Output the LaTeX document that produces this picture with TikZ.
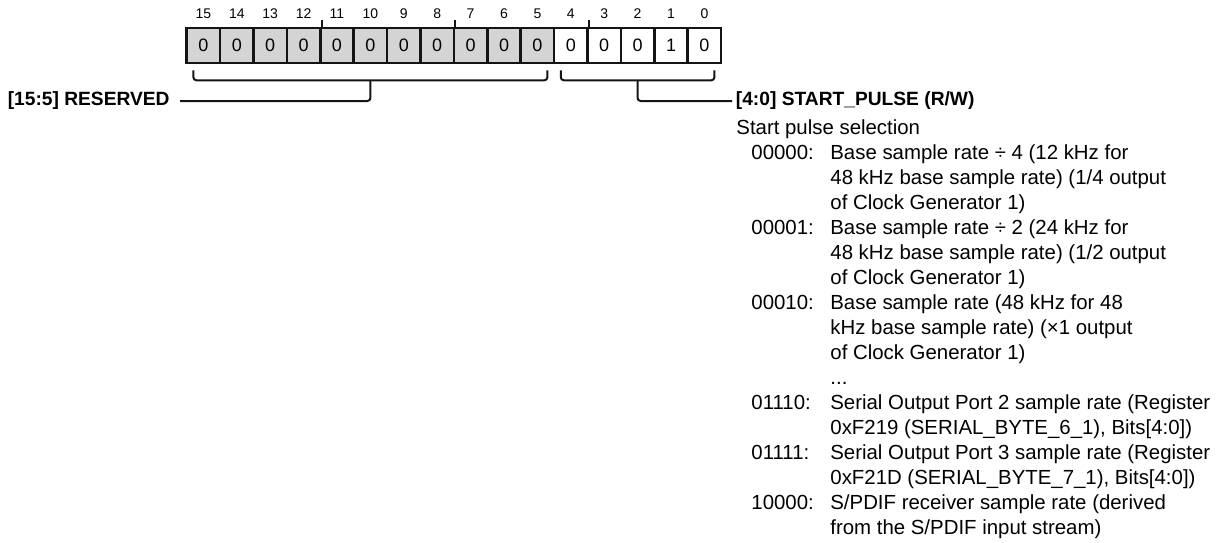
\documentclass[tikz,border=0pt]{standalone}
\usepackage{fontspec}
\setmainfont{Liberation Sans}
\usepackage{tikz}
\usetikzlibrary{positioning, calc}
\definecolor{rsvgrey}{RGB}{212,212,212}
\definecolor{regdark}{RGB}{20,20,20}
\tikzset{
  bitbox/.style={rectangle, draw=regdark, fill=white, line width=1.3pt,
    minimum width=16.7pt, minimum height=17.5pt, inner sep=0pt,
    font=\fontsize{9}{9}\selectfont},
  rsvbox/.style={bitbox, fill=rsvgrey},
  bitnum/.style={inner sep=0pt, font=\fontsize{7}{7}\selectfont},
  bittick/.style={line width=1pt, color=regdark},
  brace/.style={line width=1pt, color=regdark, rounded corners=1.5pt},
  fieldlbl/.style={inner ysep=0pt, font=\fontsize{9.6}{9.6}\selectfont\bfseries},
  desc/.style={inner sep=0pt, align=left, font=\fontsize{10.2}{12.5}\selectfont}
}

\begin{document}
\begin{tikzpicture}[x=0.5pt, y=-0.5pt]
  \useasboundingbox (0,0) rectangle (1231,542);

  % Register bits
  \foreach \b in {15,...,0} {
    \pgfmathtruncatemacro{\val}{\b==1 ? 1 : 0}
    \ifnum\b>4
      \node[rsvbox] (b\b) at ({203.4+(15-\b)*33.4},45.5) {\val};
    \else
      \node[bitbox] (b\b) at ({203.4+(15-\b)*33.4},45.5) {\val};
    \fi
    \node[bitnum] (n\b) at ($(b\b.north)+(0,-13)$) {\b};
  }
  \foreach \b in {12,8,4}
    \draw[bittick] (b\b.north east) -- ++(0,-7);

  % [15:5] RESERVED
  \coordinate (rsvL) at ([shift={(8,6)}]b15.south west);
  \coordinate (rsvR) at ([shift={(-8,6)}]b5.south east);
  \draw[brace] (rsvL) -- ++(0,10) -| (rsvR);
  \node[fieldlbl, anchor=east, inner xsep=5pt] (rsvlbl) at (180,101) {[15:5] RESERVED};
  \draw[brace] ($(rsvL)!0.5!(rsvR)+(0,10)$) |- (rsvlbl.east);

  % [4:0] START_PULSE
  \coordinate (pulseL) at ([shift={(8,6)}]b4.south west);
  \coordinate (pulseR) at ([shift={(-8,6)}]b0.south east);
  \draw[brace] (pulseL) -- ++(0,10) -| (pulseR);
  \node[fieldlbl, anchor=west, inner xsep=1.75pt] (pulselbl) at (732,101) {[4:0] START\_PULSE (R/W)};
  \draw[brace] ($(pulseL)!0.5!(pulseR)+(0,10)$) |- (pulselbl.west);

  \node[desc, anchor=north west] (pulsedesc) at (736,117) {%
    \begin{tabular}{@{}p{47pt}@{}l@{}}
      \multicolumn{2}{@{}l@{}}{Start pulse selection}\\
      \hspace*{7.5pt}00000: & Base sample rate ÷ 4 (12 kHz for\\
      & 48 kHz base sample rate) (1/4 output\\
      & of Clock Generator 1)\\
      \hspace*{7.5pt}00001: & Base sample rate ÷ 2 (24 kHz for\\
      & 48 kHz base sample rate) (1/2 output\\
      & of Clock Generator 1)\\
      \hspace*{7.5pt}00010: & Base sample rate (48 kHz for 48\\
      & kHz base sample rate) (×1 output\\
      & of Clock Generator 1)\\
      & ...\\
      \hspace*{7.5pt}01110: & Serial Output Port 2 sample rate (Register\\
      & 0xF219 (SERIAL\_BYTE\_6\_1), Bits[4:0])\\
      \hspace*{7.5pt}01111: & Serial Output Port 3 sample rate (Register\\
      & 0xF21D (SERIAL\_BYTE\_7\_1), Bits[4:0])\\
      \hspace*{7.5pt}10000: & S/PDIF receiver sample rate (derived\\
      & from the S/PDIF input stream)
    \end{tabular}};
\end{tikzpicture}
\end{document}
